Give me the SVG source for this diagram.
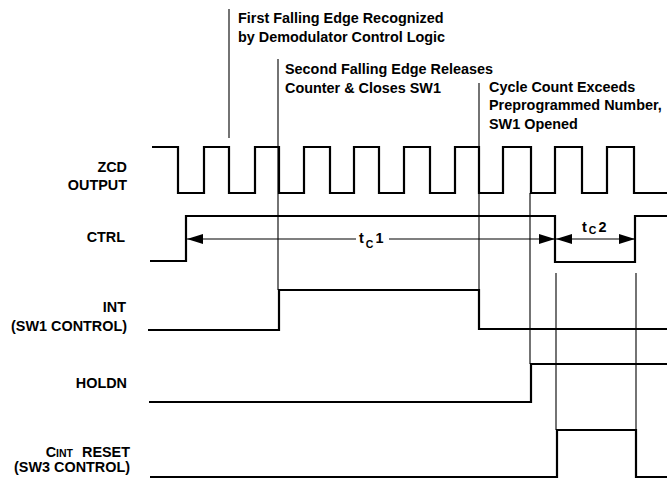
<svg xmlns="http://www.w3.org/2000/svg" width="667" height="479" viewBox="0 0 667 479">
<defs>
<style>
text{font-family:"Liberation Sans",Arial,sans-serif;font-weight:bold;font-size:14.4px;fill:#000}
.lbl{text-anchor:end}
.sub{font-size:10.5px}
.wave{fill:none;stroke:#000;stroke-width:2.2;stroke-linejoin:miter}
.thin{fill:none;stroke:#000;stroke-width:1.1}
</style>
<marker id="ah" viewBox="0 0 16 10" refX="16" refY="5" markerWidth="16" markerHeight="10" markerUnits="userSpaceOnUse" orient="auto-start-reverse">
<path d="M0,0 L16,5 L0,10 Z" fill="#000"/>
</marker>
</defs>
<rect width="667" height="479" fill="#fff"/>

<g id="zcd">
<text class="lbl" x="127" y="172">ZCD</text>
<text class="lbl" x="127" y="190">OUTPUT</text>
<path class="wave" d="M152,147 H178 V193 H204 V147 H229 V193 H255 V147 H279 V193 H304 V147 H330 V193 H354 V147 H379 V193 H404 V147 H430 V193 H455 V147 H479 V193 H503 V147 H531 V193 H555 V147 H582 V193 H607 V147 H634 V193 H667"/>
</g>

<g id="ctrl">
<text class="lbl" x="125" y="242">CTRL</text>
<path class="wave" d="M150,261 H186 V216 H555 V262 H635 V216 H667"/>
</g>

<g id="int">
<text class="lbl" x="126" y="312">INT</text>
<text class="lbl" x="127" y="331">(SW1 CONTROL)</text>
<path class="wave" d="M148,330 H279 V290 H479 V329 H667"/>
</g>

<g id="holdn">
<text class="lbl" x="127" y="388">HOLDN</text>
<path class="wave" d="M149,402 H531 V364 H667"/>
</g>

<g id="cint">
<text class="lbl" x="130" y="457">C<tspan class="sub">INT</tspan><tspan dx="5"> RESET</tspan></text>
<text class="lbl" x="130" y="472">(SW3 CONTROL)</text>
<path class="wave" d="M150,477 H557 V430 H636 V477 H667"/>
</g>

<g id="note1">
<text x="238" y="23">First Falling Edge Recognized</text>
<text x="238" y="42">by Demodulator Control Logic</text>
</g>
<g id="note2">
<text x="285" y="74">Second Falling Edge Releases</text>
<text x="285" y="93">Counter &amp; Closes SW1</text>
</g>
<g id="note3">
<text x="489" y="92">Cycle Count Exceeds</text>
<text x="489" y="110">Preprogrammed Number,</text>
<text x="489" y="129">SW1 Opened</text>
</g>

<g id="connectors">
<line class="thin" x1="229" y1="9" x2="229" y2="138"/>
<line class="thin" x1="278" y1="59" x2="278" y2="290"/>
<line class="thin" x1="479" y1="83" x2="479" y2="290"/>
<line class="thin" x1="530" y1="193" x2="530" y2="364"/>
<line class="thin" x1="556" y1="273" x2="556" y2="430"/>
<line class="thin" x1="636" y1="273" x2="636" y2="477"/>
<line class="thin" x1="187" y1="239" x2="356" y2="239" marker-start="url(#ah)"/>
<line class="thin" x1="389" y1="239" x2="555" y2="239" marker-end="url(#ah)"/>
<line class="thin" x1="556" y1="239" x2="635" y2="239" marker-start="url(#ah)" marker-end="url(#ah)"/>
</g>

<g id="tc-labels">
<text x="359" y="243">t<tspan class="sub" dx="2" dy="5">C</tspan><tspan dx="2" dy="-5">1</tspan></text>
<text x="582" y="232">t<tspan class="sub" dx="2" dy="2">C</tspan><tspan dx="2" dy="-2">2</tspan></text>
</g>
</svg>
